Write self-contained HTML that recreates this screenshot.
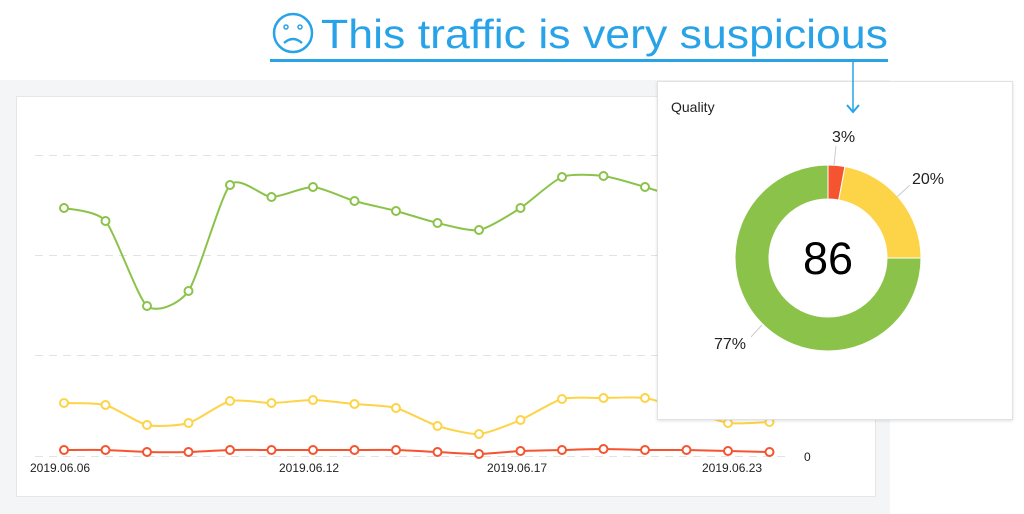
<!DOCTYPE html>
<html><head><meta charset="utf-8"><style>
html,body{margin:0;padding:0;background:#fff;width:1024px;height:514px;overflow:hidden;font-family:"Liberation Sans",sans-serif}
</style></head><body>
<svg id="s" width="1024" height="514" xmlns="http://www.w3.org/2000/svg" style="position:absolute;left:0;top:0">
<defs><filter id="sh" x="-5%" y="-5%" width="110%" height="110%"><feDropShadow dx="0" dy="1" stdDeviation="1.5" flood-color="#000" flood-opacity="0.12"/></filter></defs>
<rect x="0" y="80" width="890" height="434" fill="#f4f5f7"/>
<rect x="16.5" y="96.5" width="859" height="400" fill="#fff" stroke="#e6e6e6"/>
<g stroke="#e3e3e3" stroke-dasharray="8,6" stroke-width="1">
<line x1="35" y1="155.5" x2="790" y2="155.5"/>
<line x1="35" y1="255.5" x2="790" y2="255.5"/>
<line x1="35" y1="355.5" x2="790" y2="355.5"/>
<line x1="35" y1="456.5" x2="790" y2="456.5"/>
</g>
<g id="series"></g>
<g font-size="12" fill="#222">
<text x="30" y="472">2019.06.06</text>
<text x="279" y="472">2019.06.12</text>
<text x="487" y="472">2019.06.17</text>
<text x="702" y="472">2019.06.23</text>
<text x="804" y="461">0</text>
</g>
<g stroke="#29a3e8" fill="none" stroke-width="2.5">
<circle cx="293" cy="33" r="19"/>
<path d="M284 43 Q293 35 302 43"/>
</g>
<circle cx="286" cy="27" r="2" fill="none" stroke="#29a3e8" stroke-width="1.5"/>
<circle cx="300" cy="27" r="2" fill="none" stroke="#29a3e8" stroke-width="1.5"/>
<text x="321" y="48" font-size="41" fill="#29a3e8" textLength="567" lengthAdjust="spacingAndGlyphs">This traffic is very suspicious</text>
<rect x="270" y="59" width="618" height="3" fill="#29a3e8"/>
<rect x="657.5" y="81.5" width="355" height="338" fill="#fff" stroke="#e2e2e2" filter="url(#sh)"/>
<line x1="853" y1="62" x2="853" y2="112" stroke="#29a3e8" stroke-width="1.5"/>
<path d="M847 105 L853 112 L859 105" stroke="#29a3e8" stroke-width="2" fill="none"/>
<text x="671" y="112" font-size="14" fill="#222">Quality</text>
<g id="donut"></g>
<text x="828" y="274" font-size="45" fill="#000" text-anchor="middle">86</text>
<g font-size="16" fill="#222">
<text x="832" y="142">3%</text>
<text x="912" y="184">20%</text>
<text x="714" y="349">77%</text>
</g>
<g stroke="#ccc" stroke-width="1" fill="none">
<line x1="836" y1="146" x2="834" y2="165"/>
<line x1="910" y1="185" x2="897" y2="197"/>
<line x1="751" y1="337" x2="762" y2="325"/>
</g>
</svg>
<script>
var X=i=>64+41.5*i;
var G=[208,221,306,291,185,197,187,201,211,223,230,208,177,176,187,200,210,212];
var Y=[403,405,425,423,401,403,400,404,408,426,434,420,399,398,398,410,423,422];
var R=[450,450,452,452,450,450,450,450,450,452,454,451,450,449,450,450,451,452];
function path(a){var p=a.map((y,i)=>[X(i),y]);var d="M"+p[0];for(var i=0;i<p.length-1;i++){var p0=p[i-1]||p[i],p1=p[i],p2=p[i+1],p3=p[i+2]||p2;var t=0.11;d+=" C"+(p1[0]+(p2[0]-p0[0])*t)+","+(p1[1]+(p2[1]-p0[1])*t)+" "+(p2[0]-(p3[0]-p1[0])*t)+","+(p2[1]-(p3[1]-p1[1])*t)+" "+p2;}return d;}
var g=document.getElementById("series"),h="";
[[G,"#8bc34a"],[Y,"#fdd447"],[R,"#f4542f"]].forEach(function(s){h+='<path d="'+path(s[0])+'" fill="none" stroke="'+s[1]+'" stroke-width="2"/>';for(var i=0;i<s[0].length;i++){h+='<circle cx="'+X(i)+'" cy="'+s[0][i]+'" r="4" fill="#fff" stroke="'+s[1]+'" stroke-width="2"/>';}});
g.innerHTML=h;
function arc(a0,a1,c){var cx=828,cy=258,R=93,r=59;function pt(rad,a){a=(a-90)*Math.PI/180;return [cx+rad*Math.cos(a),cy+rad*Math.sin(a)];}var L=(a1-a0)>180?1:0;var A=pt(R,a0),B=pt(R,a1),C=pt(r,a1),D=pt(r,a0);return '<path d="M'+A+' A'+R+','+R+' 0 '+L+' 1 '+B+' L'+C+' A'+r+','+r+' 0 '+L+' 0 '+D+'Z" fill="'+c+'" stroke="#fff" stroke-width="1"/>';}
document.getElementById("donut").innerHTML=arc(0,10.5,"#f4542f")+arc(10.5,90,"#fdd447")+arc(90,360,"#8bc34a");
</script>
</body></html>
